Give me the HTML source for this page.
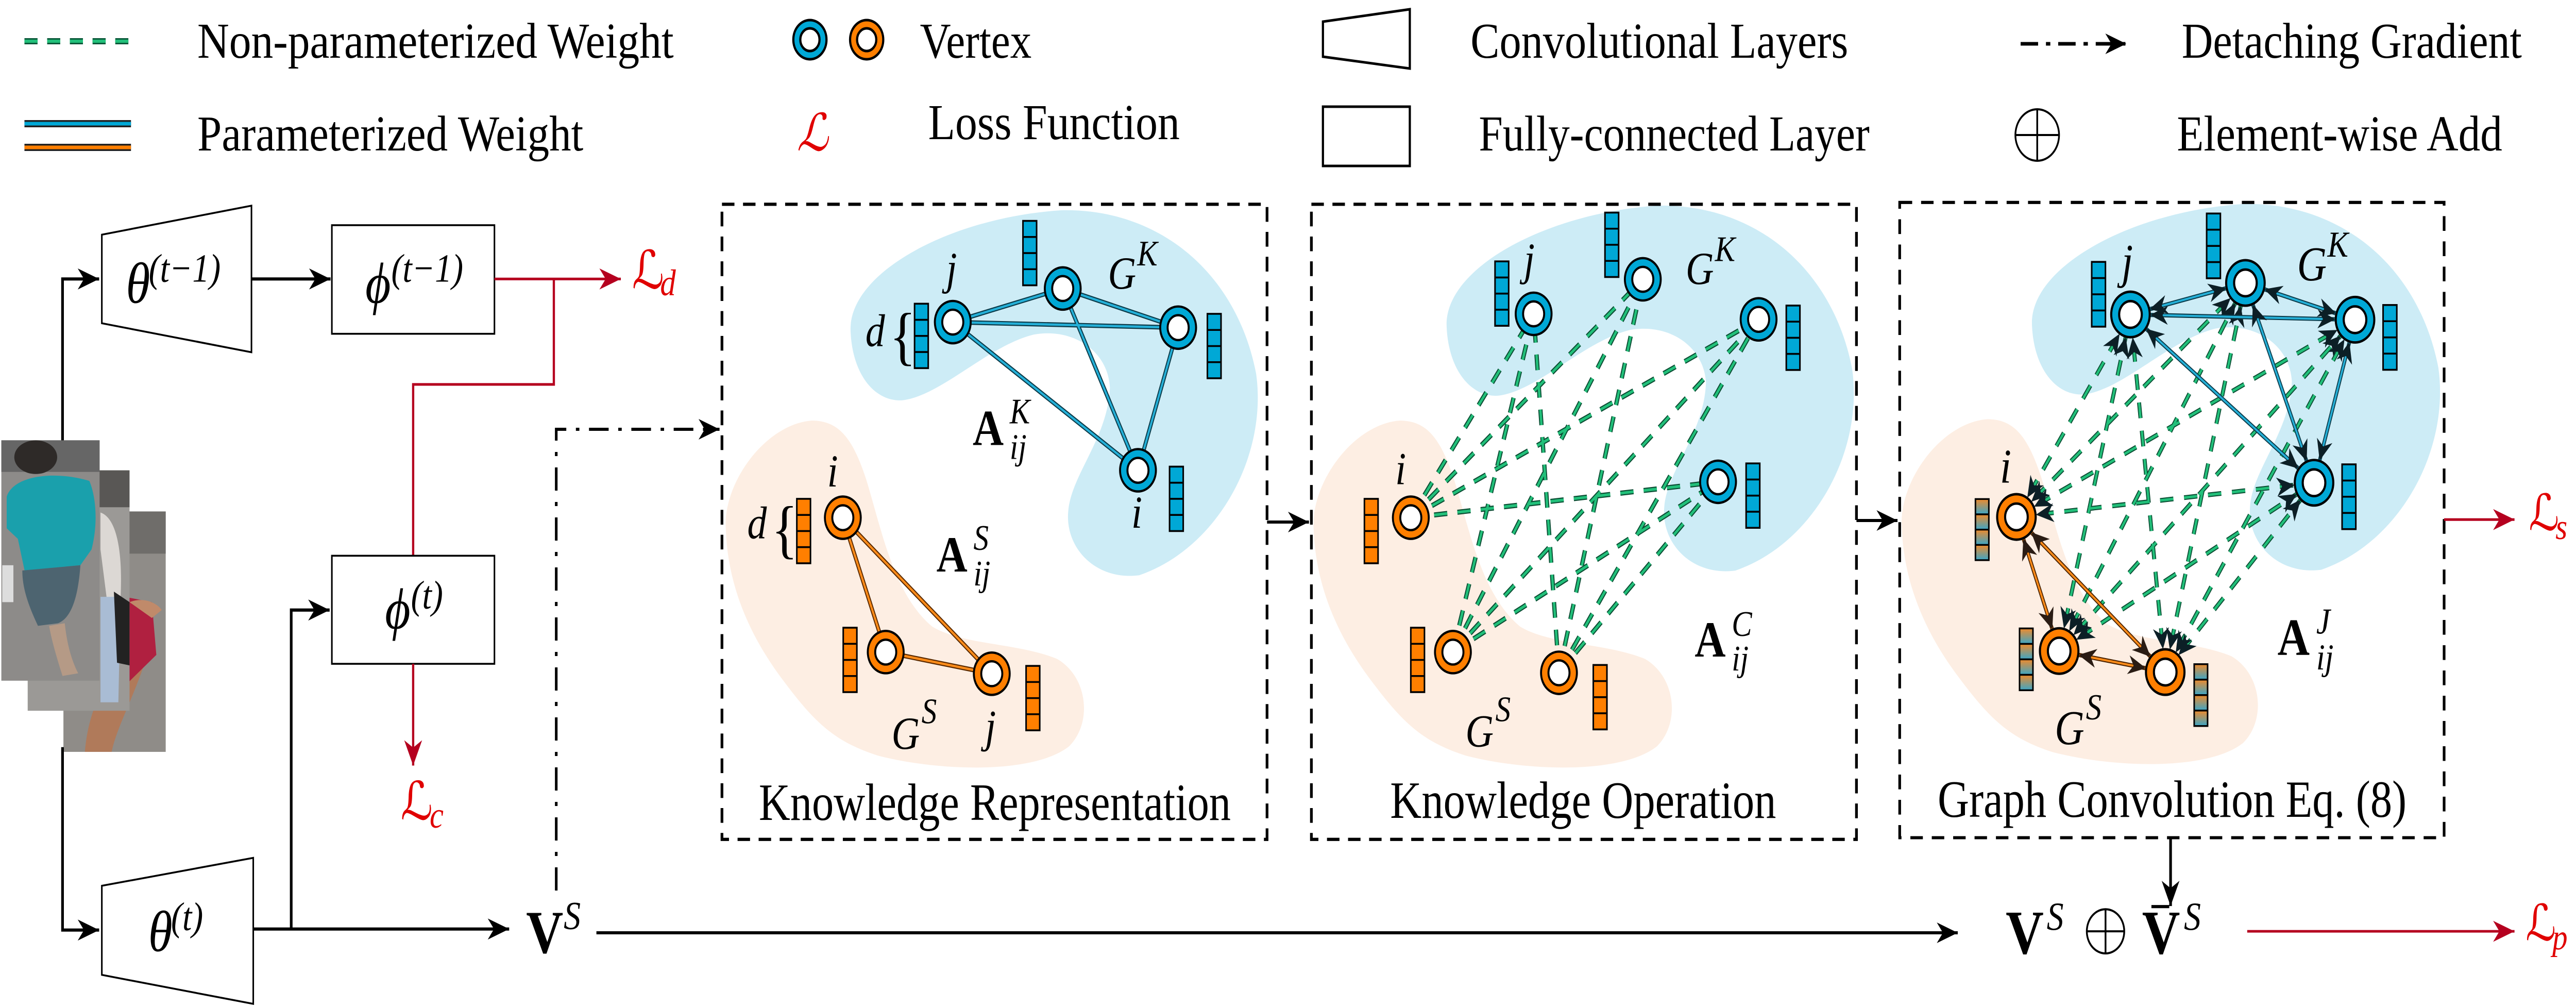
<!DOCTYPE html>
<html><head><meta charset="utf-8"><style>
html,body{margin:0;padding:0;background:#fff;overflow:hidden;width:100%;height:100%}
svg{display:block;position:absolute;left:0;top:0;width:100vw;height:100vh}
text{font-family:"Liberation Serif","DejaVu Serif",serif}
.m{font-style:italic}
</style></head><body>
<svg viewBox="0 0 5900 1954" preserveAspectRatio="none" xmlns="http://www.w3.org/2000/svg">
<defs>
<marker id="ah" markerUnits="userSpaceOnUse" markerWidth="60" markerHeight="60" orient="auto" overflow="visible" refX="0" refY="0"><path d="M-48,-20 L0,0 L-48,20 L-34,0 Z" fill="#000"/></marker>
<marker id="ahr" markerUnits="userSpaceOnUse" markerWidth="60" markerHeight="60" orient="auto" overflow="visible" refX="0" refY="0"><path d="M-48,-20 L0,0 L-48,20 L-34,0 Z" fill="#b5001f"/></marker>
<marker id="bar" markerUnits="userSpaceOnUse" orient="auto-start-reverse" overflow="visible" refX="44" refY="0"><path d="M-40,-18 L0,0 L-40,18 L-28,0 Z" fill="#0c1f26"/></marker>
<marker id="bar2" markerUnits="userSpaceOnUse" orient="auto-start-reverse" overflow="visible" refX="44" refY="0"><path d="M-40,-18 L0,0 L-40,18 L-28,0 Z" fill="#2a1c14"/></marker>
<linearGradient id="gc" x1="0" y1="0" x2="0" y2="1"><stop offset="0" stop-color="#f08a2a"/><stop offset="1" stop-color="#3aa6c8"/></linearGradient>
<g id="bb"><rect x="0" y="0" width="35" height="140" fill="#00a8d6" stroke="#000" stroke-width="4"/><path d="M0,35H35M0,70H35M0,105H35" stroke="#000" stroke-width="4"/></g>
<g id="ob"><rect x="0" y="0" width="35" height="140" fill="#ff7f00" stroke="#000" stroke-width="4"/><path d="M0,35H35M0,70H35M0,105H35" stroke="#000" stroke-width="4"/></g>
<g id="gb"><rect x="0" y="0" width="35" height="35" fill="url(#gc)"/><rect x="0" y="35" width="35" height="35" fill="url(#gc)"/><rect x="0" y="70" width="35" height="35" fill="url(#gc)"/><rect x="0" y="105" width="35" height="35" fill="url(#gc)"/><rect x="0" y="0" width="35" height="140" fill="none" stroke="#000" stroke-width="4"/><path d="M0,35H35M0,70H35M0,105H35" stroke="#000" stroke-width="4"/></g>
<g id="bn"><circle r="46" fill="#00a8d6" stroke="#000" stroke-width="5"/><circle r="27" fill="#fff" stroke="#000" stroke-width="5"/></g>
<g id="on"><circle r="46" fill="#ff7f00" stroke="#000" stroke-width="5"/><circle r="27" fill="#fff" stroke="#000" stroke-width="5"/></g>
<path id="blueblob" d="M390,330 C380,200 650,80 930,65 C1180,60 1380,200 1430,420 C1460,600 1330,800 1130,858 C1020,870 940,800 948,720 C955,640 1050,560 1055,450 C1050,370 960,320 860,335 C740,360 620,470 520,478 C450,480 395,420 390,330 Z" fill="#cdecf6"/>
<path id="orangeblob" d="M70,760 C60,660 170,530 290,522 C360,522 395,560 430,650 C470,760 500,900 600,970 C680,1010 820,1005 920,1040 C1000,1080 1010,1180 950,1230 C860,1290 620,1285 460,1250 C350,1220 300,1180 220,1090 C130,990 75,880 70,760 Z" fill="#fdeee3"/>
</defs>

<!-- Legend -->
<line x1="56" y1="80" x2="300" y2="80" stroke="#0a5a3a" stroke-width="12" stroke-dasharray="30 22"/>
<line x1="56" y1="80" x2="300" y2="80" stroke="#22c07a" stroke-width="6" stroke-dasharray="30 22"/>
<text x="452" y="112" font-size="98" textLength="1091" lengthAdjust="spacingAndGlyphs">Non-parameterized Weight</text>
<circle cx="1855" cy="77" r="38" fill="#00a8d6" stroke="#000" stroke-width="5"/><circle cx="1855" cy="77" r="22" fill="#fff" stroke="#000" stroke-width="5"/>
<circle cx="1985" cy="77" r="38" fill="#ff7f00" stroke="#000" stroke-width="5"/><circle cx="1985" cy="77" r="22" fill="#fff" stroke="#000" stroke-width="5"/>
<text x="2107" y="112" font-size="98">Vertex</text>
<polygon points="3030,42 3229,18 3229,133 3030,110" fill="#fff" stroke="#000" stroke-width="5"/>
<text x="3368" y="112" font-size="98" textLength="865" lengthAdjust="spacingAndGlyphs">Convolutional Layers</text>
<line x1="4628" y1="85" x2="4870" y2="85" stroke="#000" stroke-width="7" stroke-dasharray="40 18 10 18" marker-end="url(#ah)"/>
<text x="4997" y="112" font-size="98" textLength="779" lengthAdjust="spacingAndGlyphs">Detaching Gradient</text>
<line x1="56" y1="240" x2="300" y2="240" stroke="#222" stroke-width="14"/><line x1="56" y1="240" x2="300" y2="240" stroke="#00a8d6" stroke-width="7"/>
<line x1="56" y1="286" x2="300" y2="286" stroke="#222" stroke-width="14"/><line x1="56" y1="286" x2="300" y2="286" stroke="#ff7f00" stroke-width="7"/>
<text x="452" y="292" font-size="98" textLength="884" lengthAdjust="spacingAndGlyphs">Parameterized Weight</text>
<text x="1825" y="292" font-size="100" fill="#e00000" class="m" font-family="DejaVu Serif">ℒ</text>
<text x="2126" y="270" font-size="98" textLength="576" lengthAdjust="spacingAndGlyphs">Loss Function</text>
<rect x="3030" y="207" width="199" height="115" fill="#fff" stroke="#000" stroke-width="5"/>
<text x="3387" y="292" font-size="98" textLength="895" lengthAdjust="spacingAndGlyphs">Fully-connected Layer</text>
<circle cx="4666" cy="262" r="50" fill="none" stroke="#000" stroke-width="4"/><path d="M4616,262H4716M4666,212V312" stroke="#000" stroke-width="4"/>
<text x="4986" y="292" font-size="98" textLength="745" lengthAdjust="spacingAndGlyphs">Element-wise Add</text>

<!-- Left part -->
<g transform="translate(0,350) scale(1.023)">
 <g>
  <rect x="142" y="628" width="229" height="456" fill="#8f8c88"/>
  <rect x="142" y="628" width="229" height="80" fill="#6f6d6a"/>
  <path d="M190,1084 C200,980 260,920 300,880 L330,900 C300,980 260,1040 250,1084 Z" fill="#b07a5a"/>
  <path d="M280,790 L340,800 L350,900 L290,950 L270,880 Z" fill="#b02040"/>
  <path d="M290,800 C320,790 350,800 362,815 L340,830 Z" fill="#c08a6a"/>
  <rect x="62" y="550" width="228" height="456" fill="#9b9996"/>
  <rect x="62" y="550" width="228" height="70" fill="#595755"/>
  <path d="M225,630 C260,640 275,700 270,790 L240,800 L225,700 Z" fill="#dcd8d4"/>
  <path d="M225,790 L270,790 L265,990 L225,990 Z" fill="#a9bcd4"/>
  <path d="M255,780 L290,800 L290,920 L262,915 Z" fill="#222"/>
  <rect x="3" y="493" width="220" height="456" fill="#8d8b89"/>
  <rect x="3" y="493" width="220" height="60" fill="#666"/>
  <ellipse cx="80" cy="525" rx="48" ry="32" fill="#2e2a28"/>
  <path d="M15,600 C30,560 120,550 200,570 C215,600 220,650 205,700 L180,730 L55,740 L40,680 L15,660 Z" fill="#1aa0ac"/>
  <path d="M50,740 L180,730 C175,790 160,830 130,840 L85,845 C60,800 50,770 50,740 Z" fill="#4d6470"/>
  <path d="M110,845 L145,840 C150,880 160,910 175,935 L140,940 C125,900 115,870 110,845 Z" fill="#b59a86"/>
  <rect x="5" y="730" width="25" height="70" fill="#ddd"/>
 </g>
 <polygon points="228,103 563,48 563,326 228,271" fill="#fff" stroke="#000" stroke-width="3.5"/>
 <text x="282" y="232" font-size="110" class="m">θ</text><text x="333" y="192" font-size="76" class="m">(t−1)</text>
 <rect x="743" y="85" width="364" height="206" fill="#fff" stroke="#000" stroke-width="3.5"/>
 <text x="818" y="232" font-size="110" class="m">ϕ</text><text x="876" y="192" font-size="76" class="m">(t−1)</text>
 <line x1="563" y1="187" x2="740" y2="187" stroke="#000" stroke-width="6" marker-end="url(#ah)"/>
 <line x1="1107" y1="187" x2="1390" y2="187" stroke="#b5001f" stroke-width="5" marker-end="url(#ahr)"/>
 <text x="1415" y="205" font-size="100" fill="#e00000" font-family="DejaVu Serif">ℒ</text><text x="1478" y="218" font-size="70" fill="#e00000" class="m">d</text>
 <polyline points="1240,187 1240,387 925,387 925,712" fill="none" stroke="#b5001f" stroke-width="5"/>
 <rect x="743" y="712" width="364" height="205" fill="#fff" stroke="#000" stroke-width="3.5"/>
 <text x="862" y="850" font-size="110" class="m">ϕ</text><text x="920" y="812" font-size="76" class="m">(t)</text>
 <line x1="925" y1="917" x2="925" y2="1110" stroke="#b5001f" stroke-width="5" marker-end="url(#ahr)"/>
 <text x="897" y="1212" font-size="100" fill="#e00000" font-family="DejaVu Serif">ℒ</text><text x="962" y="1228" font-size="70" fill="#e00000" class="m">c</text>
 <polyline points="140,493 140,187 222,187" fill="none" stroke="#000" stroke-width="6" marker-end="url(#ah)"/>
 <polyline points="140,1075 140,1422 222,1422" fill="none" stroke="#000" stroke-width="6" marker-end="url(#ah)"/>
 <polygon points="228,1338 567,1285 567,1562 228,1507" fill="#fff" stroke="#000" stroke-width="3.5"/>
 <text x="332" y="1462" font-size="110" class="m">θ</text><text x="383" y="1422" font-size="76" class="m">(t)</text>
 <line x1="567" y1="1420" x2="1140" y2="1420" stroke="#000" stroke-width="6" marker-end="url(#ah)"/>
 <polyline points="652,1420 652,815 738,815" fill="none" stroke="#000" stroke-width="6" marker-end="url(#ah)"/>
 <text x="1178" y="1465" font-size="115" font-weight="bold">V</text><text x="1262" y="1420" font-size="76" class="m">S</text>
</g>
<line x1="1366" y1="1810" x2="4484" y2="1810" stroke="#000" stroke-width="6" marker-end="url(#ah)"/>
<polyline points="1274,1728 1274,833 1648,833" fill="none" stroke="#000" stroke-width="6" stroke-dasharray="45 22 8 22" marker-end="url(#ah)"/>

<!-- Panel 1 -->
<g transform="translate(1600,350) scale(0.893)">
 <use href="#blueblob"/><use href="#orangeblob"/>
 <rect x="60" y="52" width="1398" height="1380" fill="none" stroke="#000" stroke-width="7" stroke-dasharray="32 22"/>
 <g stroke-linecap="round">
  <g stroke="#0b3a48" stroke-width="10"><path d="M652,308L934,235M652,308L1230,320M652,308L1127,630M934,235L1127,630M934,235L1230,320M1230,320L1127,630"/></g>
  <g stroke="#25b0d8" stroke-width="5"><path d="M652,308L934,235M652,308L1230,320M652,308L1127,630M934,235L1127,630M934,235L1230,320M1230,320L1127,630"/></g>
  <g stroke="#5a2a00" stroke-width="10"><path d="M370,733L480,1025M370,733L752,1072M480,1025L752,1072"/></g>
  <g stroke="#ff8c1a" stroke-width="5"><path d="M370,733L480,1025M370,733L752,1072M480,1025L752,1072"/></g>
 </g>
 <use href="#bn" x="652" y="308"/><use href="#bn" x="934" y="235"/><use href="#bn" x="1230" y="320"/><use href="#bn" x="1127" y="630"/>
 <use href="#on" x="370" y="733"/><use href="#on" x="480" y="1025"/><use href="#on" x="752" y="1072"/>
 <use href="#bb" x="554" y="268"/><use href="#bb" x="832" y="88"/><use href="#bb" x="1305" y="290"/><use href="#bb" x="1208" y="622"/>
 <use href="#ob" x="252" y="692"/><use href="#ob" x="371" y="972"/><use href="#ob" x="840" y="1055"/>
 <g font-size="100" class="m">
  <text x="635" y="225">j</text><text x="428" y="360">d</text><text x="490" y="385" font-style="normal" font-size="140">{</text>
  <text x="1050" y="235">G</text><text x="1125" y="185" font-size="78">K</text>
  <text x="1110" y="755">i</text>
  <text x="330" y="665">i</text><text x="125" y="778">d</text><text x="187" y="805" font-style="normal" font-size="140">{</text>
  <text x="495" y="1235">G</text><text x="572" y="1180" font-size="78">S</text>
  <text x="735" y="1220">j</text>
 </g>
 <text x="703" y="575" font-size="110" font-weight="bold">A</text><text x="798" y="528" font-size="78" class="m">K</text><text x="798" y="605" font-size="78" class="m">ij</text>
 <text x="610" y="850" font-size="110" font-weight="bold">A</text><text x="705" y="803" font-size="78" class="m">S</text><text x="705" y="880" font-size="78" class="m">ij</text>
</g>
<text x="1738" y="1591" font-size="102" textLength="1081" lengthAdjust="spacingAndGlyphs">Knowledge Representation</text>
<polyline points="2902,1013 2998,1013" fill="none" stroke="#000" stroke-width="6" marker-end="url(#ah)"/>

<!-- Panel 2 -->
<g transform="translate(2950,350) scale(0.893)">
 <use href="#blueblob" transform="translate(17,-10)"/><use href="#orangeblob" transform="translate(-4,0)"/>
 <rect x="60" y="52" width="1398" height="1380" fill="none" stroke="#000" stroke-width="7" stroke-dasharray="32 22"/>
 <g fill="none" stroke-dasharray="34 26">
  <path stroke="#0b4d33" stroke-width="11" d="M315,733L630,290M315,733L910,215M315,733L1207,302M315,733L1103,655M423,1025L630,290M423,1025L910,215M423,1025L1207,302M423,1025L1103,655M695,1070L630,290M695,1070L910,215M695,1070L1207,302M695,1070L1103,655"/>
  <path stroke="#22c07a" stroke-width="6" d="M315,733L630,290M315,733L910,215M315,733L1207,302M315,733L1103,655M423,1025L630,290M423,1025L910,215M423,1025L1207,302M423,1025L1103,655M695,1070L630,290M695,1070L910,215M695,1070L1207,302M695,1070L1103,655"/>
 </g>
 <use href="#bn" x="630" y="290"/><use href="#bn" x="910" y="215"/><use href="#bn" x="1207" y="302"/><use href="#bn" x="1103" y="655"/>
 <use href="#on" x="315" y="733"/><use href="#on" x="423" y="1025"/><use href="#on" x="695" y="1070"/>
 <use href="#bb" x="531" y="176"/><use href="#bb" x="813" y="70"/><use href="#bb" x="1278" y="272"/><use href="#bb" x="1175" y="615"/>
 <use href="#ob" x="196" y="692"/><use href="#ob" x="315" y="972"/><use href="#ob" x="783" y="1053"/>
 <g font-size="100" class="m">
  <text x="605" y="205">j</text>
  <text x="1020" y="225">G</text><text x="1095" y="175" font-size="78">K</text>
  <text x="275" y="660">i</text>
  <text x="455" y="1230">G</text><text x="532" y="1175" font-size="78">S</text>
 </g>
 <text x="1043" y="1035" font-size="110" font-weight="bold">A</text><text x="1138" y="990" font-size="78" class="m">C</text><text x="1138" y="1065" font-size="78" class="m">ij</text>
</g>
<text x="3184" y="1587" font-size="102" textLength="884" lengthAdjust="spacingAndGlyphs">Knowledge Operation</text>
<polyline points="4252,1010 4346,1010" fill="none" stroke="#000" stroke-width="6" marker-end="url(#ah)"/>

<!-- Panel 3 -->
<g transform="translate(4300,350) scale(1.0204)">
 <g transform="translate(5,-12) scale(0.877)"><use href="#blueblob"/></g>
 <g transform="translate(-6,0) scale(0.87)"><use href="#orangeblob"/></g>
 <rect x="50" y="42" width="1222" height="1208" fill="none" stroke="#000" stroke-width="6" stroke-dasharray="28 20"/>
 <g fill="none" stroke-dasharray="30 24">
  <path stroke="#0b4d33" stroke-width="9" d="M312,640L568,255M312,640L826,195M312,640L1072,265M312,640L980,575M408,895L568,255M408,895L826,195M408,895L1072,265M408,895L980,575M646,935L568,255M646,935L826,195M646,935L1072,265M646,935L980,575"/>
  <path stroke="#22c07a" stroke-width="5" d="M312,640L568,255M312,640L826,195M312,640L1072,265M312,640L980,575M408,895L568,255M408,895L826,195M408,895L1072,265M408,895L980,575M646,935L568,255M646,935L826,195M646,935L1072,265M646,935L980,575"/>
 </g>
 <g fill="none" stroke="none" marker-start="url(#bar)" marker-end="url(#bar)">
  <path d="M312,640L568,255"/><path d="M312,640L826,195"/><path d="M312,640L1072,265"/><path d="M312,640L980,575"/>
  <path d="M408,895L568,255"/><path d="M408,895L826,195"/><path d="M408,895L1072,265"/><path d="M408,895L980,575"/>
  <path d="M646,935L568,255"/><path d="M646,935L826,195"/><path d="M646,935L1072,265"/><path d="M646,935L980,575"/>
 </g>
 <g stroke-width="8" stroke="#0b3a48"><path d="M568,255L826,195M568,255L1072,265M826,195L1072,265M568,255L980,575M826,195L980,575M1072,265L980,575"/></g>
 <g stroke-width="4" stroke="#25b0d8" marker-start="url(#bar)" marker-end="url(#bar)">
  <path d="M568,255L826,195"/><path d="M568,255L1072,265"/><path d="M826,195L1072,265"/><path d="M568,255L980,575"/><path d="M826,195L980,575"/><path d="M1072,265L980,575"/>
 </g>
 <g stroke-width="8" stroke="#4a2200"><path d="M312,640L408,895M312,640L646,935M408,895L646,935"/></g>
 <g stroke-width="4" stroke="#ff8c1a" marker-start="url(#bar2)" marker-end="url(#bar2)">
  <path d="M312,640L408,895"/><path d="M312,640L646,935"/><path d="M408,895L646,935"/>
 </g>
 <g transform="translate(568,255) scale(0.94)"><use href="#bn"/></g>
 <g transform="translate(826,195) scale(0.94)"><use href="#bn"/></g>
 <g transform="translate(1072,265) scale(0.94)"><use href="#bn"/></g>
 <g transform="translate(980,575) scale(0.94)"><use href="#bn"/></g>
 <g transform="translate(312,640) scale(0.94)"><use href="#on"/></g>
 <g transform="translate(408,895) scale(0.94)"><use href="#on"/></g>
 <g transform="translate(646,935) scale(0.94)"><use href="#on"/></g>
 <g transform="translate(481,155) scale(0.88)"><use href="#bb"/></g>
 <g transform="translate(739,63) scale(0.88)"><use href="#bb"/></g>
 <g transform="translate(1135,237) scale(0.88)"><use href="#bb"/></g>
 <g transform="translate(1043,540) scale(0.88)"><use href="#bb"/></g>
 <g transform="translate(220,606) scale(0.86,0.83)"><use href="#gb"/></g>
 <g transform="translate(319,852) scale(0.86,0.84)"><use href="#gb"/></g>
 <g transform="translate(711,920) scale(0.86,0.84)"><use href="#gb"/></g>
 <g font-size="92" class="m">
  <text x="548" y="185">j</text>
  <text x="942" y="190">G</text><text x="1010" y="145" font-size="70">K</text>
  <text x="275" y="575">i</text>
  <text x="398" y="1072">G</text><text x="468" y="1025" font-size="70">S</text>
 </g>
 <text x="898" y="902" font-size="100" font-weight="bold">A</text><text x="985" y="862" font-size="70" class="m">J</text><text x="985" y="930" font-size="70" class="m">ij</text>
 <line x1="658" y1="1250" x2="658" y2="1380" stroke="#000" stroke-width="6" marker-end="url(#ah)"/>
 <text x="288" y="1470" font-size="118" font-weight="bold">V</text><text x="380" y="1425" font-size="76" class="m">S</text>
 <circle cx="512" cy="1428" r="42" fill="none" stroke="#000" stroke-width="4"/><path d="M470,1428H554M512,1386V1470" stroke="#000" stroke-width="4"/>
 <text x="594" y="1470" font-size="118" font-weight="bold">V</text><rect x="615" y="1378" width="40" height="6" fill="#000"/><text x="688" y="1425" font-size="76" class="m">S</text>
 <line x1="830" y1="1428" x2="1430" y2="1428" stroke="#b5001f" stroke-width="5" marker-end="url(#ahr)"/>
 <text x="1455" y="1445" font-size="95" fill="#e00000" font-family="DejaVu Serif">ℒ</text><text x="1515" y="1462" font-size="68" fill="#e00000" class="m">p</text>
 <line x1="1272" y1="645" x2="1430" y2="645" stroke="#b5001f" stroke-width="5" marker-end="url(#ahr)"/>
 <text x="1462" y="665" font-size="95" fill="#e00000" font-family="DejaVu Serif">ℒ</text><text x="1522" y="682" font-size="68" fill="#e00000" class="m">s</text>
</g>
<text x="4438" y="1585" font-size="102" textLength="1074" lengthAdjust="spacingAndGlyphs">Graph Convolution Eq. (8)</text>
</svg>
</body></html>
